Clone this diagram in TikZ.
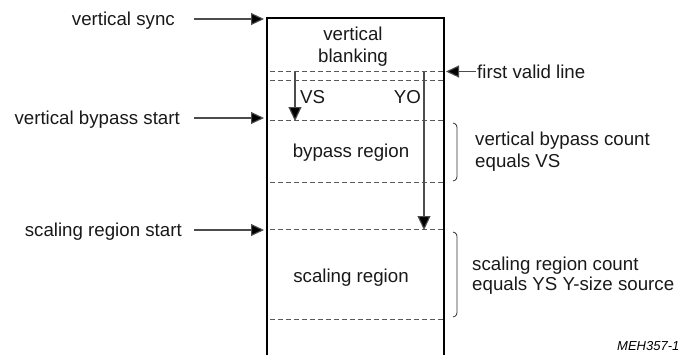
\documentclass[tikz,border=0pt]{standalone}
\usepackage{fontspec}
\setmainfont{Liberation Sans}
\usetikzlibrary{arrows.meta}
\begin{document}
\begin{tikzpicture}[x=1pt,y=-1pt,
  txt/.style={font=\fontsize{18.7}{22}\selectfont, inner sep=0pt, text=black!90},
  boxline/.style={draw=black, line width=1.3pt},
  dline/.style={draw=black!65, line width=0.9pt, dash pattern=on 5pt off 3pt},
  harrow/.style={draw=black!70, line width=1.1pt, -{Triangle[length=13pt,width=12pt,fill=black]}},
  varrow/.style={draw=black!70, line width=1.1pt, -{Triangle[length=14pt,width=13pt,fill=black]}},
  bracket/.style={draw=black!80, line width=0.8pt}]
\useasboundingbox (0,0) rectangle (680,354);
% frame
\draw[boxline] (267,360) -- (267,18) -- (444,18) -- (444,360);
% dashed lines
\coordinate (d1l) at (270,71.5); \coordinate (d1r) at (444,71.5);
\coordinate (d2l) at (270,80);   \coordinate (d2r) at (444,80);
\coordinate (d3l) at (270,120);  \coordinate (d3r) at (444,120);
\coordinate (d4l) at (270,182);  \coordinate (d4r) at (444,182);
\coordinate (d5l) at (270,229);  \coordinate (d5r) at (444,229);
\coordinate (d6l) at (270,319);  \coordinate (d6r) at (444,319);
\draw[dline] (d1l) -- (d1r);
\draw[dline] (d2l) -- (d2r);
\draw[dline] (d3l) -- (d3r);
\draw[dline] (d4l) -- (d4r);
\draw[dline] (d5l) -- (d5r);
\draw[dline] (d6l) -- (d6r);
% texts inside
\node[txt, anchor=base] (vb1) at (353,40) {vertical};
\node[txt, anchor=base] (vb2) at (353,62) {blanking};
\node[txt, anchor=base west] (vs) at (300,103) {VS};
\node[txt, anchor=base east] (yo) at (421,103) {YO};
\node[txt, anchor=base] (bp) at (351,157) {bypass region};
\node[txt, anchor=base] (sr) at (351,282) {scaling region};
% vertical arrows
\coordinate (vsA) at (295,72); \coordinate (vsB) at (295,121);
\coordinate (yoA) at (424,72); \coordinate (yoB) at (424,230);
\draw[varrow] (vsA) -- (vsB);
\draw[varrow] (yoA) -- (yoB);
% left labels
\node[txt, anchor=base east] (ls1) at (175,25) {vertical sync};
\node[txt, anchor=base east] (ls2) at (180,124) {vertical bypass start};
\node[txt, anchor=base east] (ls3) at (182,236) {scaling region start};
\coordinate (a1s) at (194,19);  \coordinate (a1e) at (264,19);
\coordinate (a2s) at (194,118); \coordinate (a2e) at (264,118);
\coordinate (a3s) at (194,230); \coordinate (a3e) at (264,230);
\draw[harrow] (a1s) -- (a1e);
\draw[harrow] (a2s) -- (a2e);
\draw[harrow] (a3s) -- (a3e);
% first valid line
\node[txt, anchor=base west] (fvl) at (477,78) {first valid line};
\coordinate (fvs) at (476,71.5); \coordinate (fve) at (446,71.5);
\draw[harrow] (fvs) -- (fve);
% brackets
\coordinate (b1a) at (453,123); \coordinate (b1b) at (453,181);
\coordinate (b2a) at (453,232); \coordinate (b2b) at (453,317);
\draw[bracket] (b1a) .. controls (457,124) and (457,126) .. (457,130) -- (457,174) .. controls (457,178) and (457,180) .. (b1b);
\draw[bracket] (b2a) .. controls (457,233) and (457,235) .. (457,239) -- (457,310) .. controls (457,314) and (457,316) .. (b2b);
\node[txt, anchor=base west] (c1) at (475,145) {vertical bypass count};
\node[txt, anchor=base west] (c2) at (475,167) {equals VS};
\node[txt, anchor=base west] (c3) at (472,270) {scaling region count};
\node[txt, anchor=base west] (c4) at (472,290) {equals YS Y-size source};
\node[inner sep=0pt, anchor=base west, font=\fontsize{13}{15}\selectfont\itshape] (meh) at (617,350) {MEH357-1};
\end{tikzpicture}
\end{document}
